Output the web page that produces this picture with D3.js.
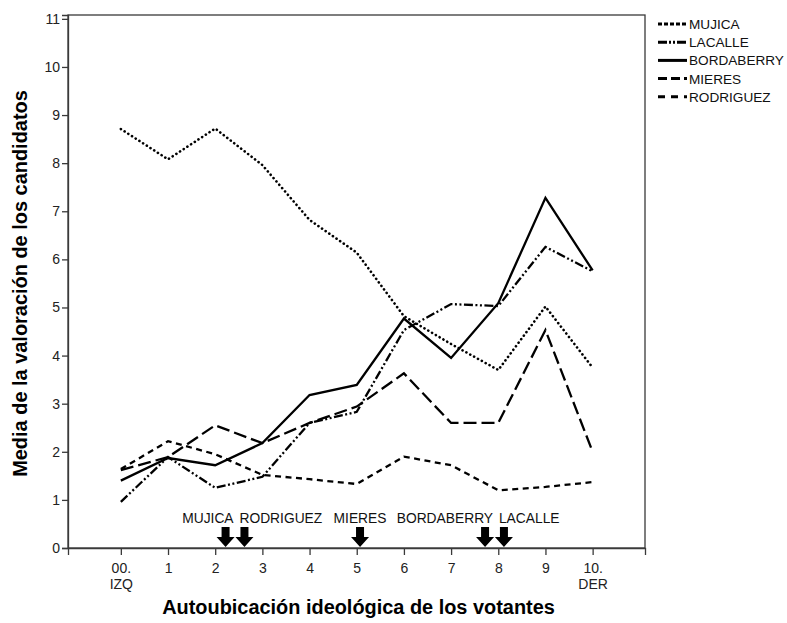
<!DOCTYPE html>
<html><head><meta charset="utf-8">
<script src="https://cdn.jsdelivr.net/npm/d3@7"></script>
<style>body{margin:0;background:#fff}svg{display:block}text{font-family:"Liberation Sans",Arial,sans-serif}</style>
</head><body><svg id="c" width="787" height="623"></svg>
<script>
const categories = [0,1,2,3,4,5,6,7,8,9,10];
const tickLabels = [["00.","IZQ"],["1"],["2"],["3"],["4"],["5"],["6"],["7"],["8"],["9"],["10.","DER"]];
const seriesNames = ["MUJICA","LACALLE","BORDABERRY","MIERES","RODRIGUEZ"];
const mujica     = [8.71,8.08,8.72,7.96,6.82,6.14,4.82,4.24,3.70,5.02,3.75];
const lacalle    = [0.96,1.89,1.25,1.48,2.60,2.83,4.53,5.07,5.03,6.26,5.75];
const bordaberry = [1.40,1.87,1.72,2.18,3.18,3.39,4.77,3.95,5.09,7.28,5.77];
const mieres     = [1.62,1.89,2.55,2.18,2.60,2.94,3.63,2.60,2.60,4.53,2.00];
const rodriguez  = [1.64,2.22,1.95,1.52,1.43,1.33,1.90,1.72,1.20,1.27,1.37];
const yTicks = [0,1,2,3,4,5,6,7,8,9,10,11];
const arrowNames = ["MUJICA","RODRIGUEZ","MIERES","BORDABERRY","LACALLE"];
const arrowPos   = [2.22,2.62,5.07,7.72,8.12];
const arrowAnchor = ["end","start","middle","end","start"];

const seriesValues = [mujica,lacalle,bordaberry,mieres,rodriguez];
const dashes = ["0.1,4.3","9,2.5,2,2.5,2,2.5","none","13,5","6,4.5"];

const svg = d3.select("#c");
const L=68,R=645,T=15,B=548;
const x = d3.scaleLinear().domain([-1.12,11.11]).range([L,R]);
const y = d3.scaleLinear().domain([0,11.08]).range([B,T]);
const frame = "#3a3a3a";

svg.append("rect").attr("x",L).attr("y",T).attr("width",R-L).attr("height",B-T)
  .attr("fill","none").attr("stroke",frame).attr("stroke-width",1.3);

const ya = svg.append("g").attr("transform",`translate(${L},0)`)
  .call(d3.axisLeft(y).tickValues(yTicks).tickSize(6).tickPadding(2).tickFormat(d3.format("d")));
ya.select(".domain").attr("stroke",frame).attr("stroke-width",1.3);
ya.selectAll(".tick line").attr("stroke",frame).attr("stroke-width",1.3);
ya.selectAll(".tick text").attr("font-size",14).attr("fill","#222")
  .attr("font-family","Liberation Sans, Arial, sans-serif");

const xa = svg.append("g").attr("transform",`translate(0,${B})`)
  .call(d3.axisBottom(x).tickValues(categories).tickSize(7).tickFormat(""));
xa.select(".domain").attr("stroke",frame).attr("stroke-width",1.3);
xa.selectAll(".tick line").attr("stroke",frame).attr("stroke-width",1.3);
xa.selectAll(".tick").each(function(d,i){
  const g=d3.select(this);
  tickLabels[i].forEach((t,j)=>{
    g.append("text").attr("x",0).attr("y",25+j*16).attr("text-anchor","middle")
     .attr("font-size",14).attr("fill","#222").text(t);
  });
});

const line = d3.line().x((d,i)=>x(categories[i])).y(d=>y(d));
seriesValues.forEach((vals,k)=>{
  svg.append("path").datum(vals).attr("d",line).attr("fill","none")
    .attr("stroke","#000").attr("stroke-width",k===0?2.6:2.3)
    .attr("stroke-linecap",k===0?"round":"butt")
    .attr("stroke-dasharray",dashes[k]==="none"?null:dashes[k]);
});

arrowNames.forEach((n,i)=>{
  const cx = x(arrowPos[i]);
  const top = 527, mid = 537, bot = 547;
  svg.append("path").attr("d",`M${cx-4},${top}L${cx+4},${top}L${cx+4},${mid}L${cx+9},${mid}L${cx},${bot}L${cx-9},${mid}L${cx-4},${mid}Z`)
    .attr("fill","#000");
  let tx = cx;
  if(arrowAnchor[i]==="end") tx = cx+8;
  if(arrowAnchor[i]==="start") tx = cx-5;
  svg.append("text").attr("x",tx).attr("y",523).attr("text-anchor",arrowAnchor[i])
    .attr("font-size",13.8).attr("fill","#111").text(n);
});

seriesNames.forEach((n,k)=>{
  const yy = 24 + k*18.2;
  const legDash = ["4,2","9,2,2,2,2,2","none","9,4","7,6"];
  svg.append("line").attr("x1",658).attr("x2",687).attr("y1",yy).attr("y2",yy)
    .attr("stroke","#000").attr("stroke-width",3)
    .attr("stroke-dasharray",legDash[k]==="none"?null:legDash[k]);
  svg.append("text").attr("x",689).attr("y",yy+5).attr("font-size",13.6)
    .attr("fill","#111").text(n);
});

function fit(sel, target){
  const w = sel.node().getComputedTextLength();
  const fs = parseFloat(sel.attr("font-size"));
  sel.attr("font-size", fs*target/w);
}
const yt = svg.append("text").attr("transform",`translate(27,283.5) rotate(-90)`)
  .attr("text-anchor","middle").attr("font-size",16.5).attr("font-weight","bold")
  .attr("font-family","DejaVu Sans, sans-serif").attr("fill","#000")
  .text("Media de la valoración de los candidatos");
fit(yt,387);
const xt = svg.append("text").attr("x",358.5).attr("y",614).attr("text-anchor","middle")
  .attr("font-size",16.5).attr("font-weight","bold")
  .attr("font-family","DejaVu Sans, sans-serif").attr("fill","#000")
  .text("Autoubicación ideológica de los votantes");
fit(xt,393);
</script></body></html>
